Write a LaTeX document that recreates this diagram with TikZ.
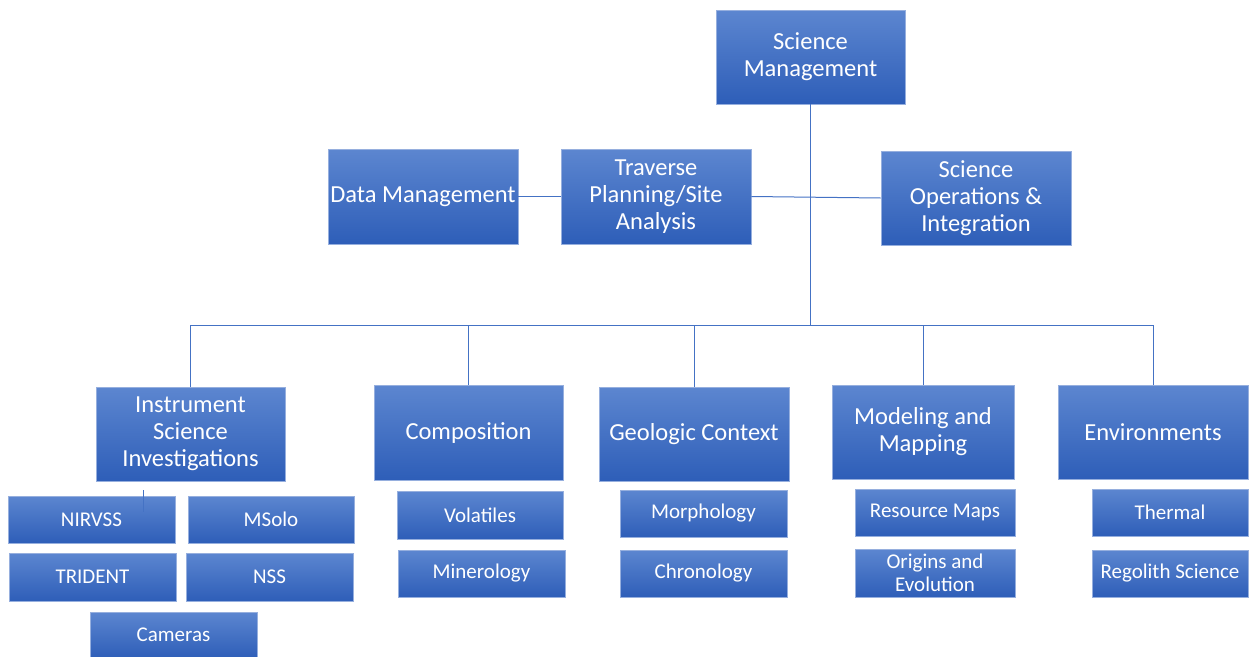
\documentclass[tikz,border=0pt]{standalone}
\usepackage{fontspec}
\setmainfont{Carlito}
\definecolor{boxtop}{RGB}{92,134,208}
\definecolor{boxbot}{RGB}{46,94,184}
\definecolor{boxedge}{RGB}{150,175,222}
\definecolor{linec}{RGB}{68,114,196}
\tikzset{
  orgbox/.style={rectangle, top color=boxtop, bottom color=boxbot, draw=boxedge, line width=0.6pt,
    text=white, align=center, inner sep=0pt},
  bigbox/.style={orgbox, font=\fontsize{24.5}{27}\selectfont},
  smallbox/.style={orgbox, font=\fontsize{21}{23}\selectfont},
  conn/.style={draw=linec, line width=1pt}
}
\begin{document}
\begin{tikzpicture}[x=1pt,y=-1pt]
\useasboundingbox (0,0) rectangle (1250,656);
% level 0/1
\node[bigbox, minimum width=189, minimum height=94] (sm) at (810.5,57) {Science\\Management};
\node[bigbox, minimum width=190, minimum height=95] (dm) at (423,196.5) {Data Management};
\node[bigbox, minimum width=190, minimum height=95] (tp) at (656,196.5) {Traverse\\Planning/Site\\Analysis};
\node[bigbox, minimum width=190, minimum height=94] (so) at (976,198) {Science\\Operations \&\\Integration};
% level 2
\node[bigbox, minimum width=189, minimum height=94] (isi) at (190.5,434) {Instrument\\Science\\Investigations};
\node[bigbox, minimum width=189, minimum height=95] (comp) at (468.5,432.5) {Composition};
\node[bigbox, minimum width=190, minimum height=94] (geo) at (694,434) {Geologic Context};
\node[bigbox, minimum width=182, minimum height=94] (mm) at (923,432) {Modeling and\\Mapping};
\node[bigbox, minimum width=190, minimum height=94] (env) at (1153,432) {Environments};
% level 3
\node[smallbox, minimum width=167, minimum height=47] (nirvss) at (91.5,519.5) {NIRVSS};
\node[smallbox, minimum width=166, minimum height=47] (msolo) at (271,519.5) {MSolo};
\node[smallbox, minimum width=167, minimum height=48] (trident) at (92.5,577) {TRIDENT};
\node[smallbox, minimum width=167, minimum height=48] (nss) at (269.5,577) {NSS};
\node[smallbox, minimum width=167, minimum height=46] (cam) at (173.5,635) {Cameras};
\node[smallbox, minimum width=166, minimum height=48] (vol) at (480,515) {Volatiles};
\node[smallbox, minimum width=167, minimum height=47] (min) at (481.5,573.5) {Minerology};
\node[smallbox, minimum width=167, minimum height=47] (morph) at (703.5,513.5) {Morphology};
\node[smallbox, minimum width=167, minimum height=47] (chron) at (703.5,573.5) {Chronology};
\node[smallbox, minimum width=160, minimum height=47] (rm) at (935,512.5) {Resource Maps};
\node[smallbox, minimum width=160, minimum height=48] (oe) at (935,573) {Origins and\\Evolution};
\node[smallbox, minimum width=156, minimum height=47] (th) at (1170,512.5) {Thermal};
\node[smallbox, minimum width=156, minimum height=47] (rs) at (1170,573.5) {Regolith Science};
% connectors
\coordinate (bus) at (810.5,325.5);
\coordinate (stubA) at (143,490);
\coordinate (stubB) at (143,512);
\draw[conn] (sm.south) -- (bus);
\draw[conn] (dm.east) -- (tp.west);
\draw[conn] (tp.east) -- (so.west);
\draw[conn] (bus) -| (isi.north);
\draw[conn] (bus) -| (comp.north);
\draw[conn] (bus) -| (geo.north);
\draw[conn] (bus) -| (mm.north);
\draw[conn] (bus) -| (env.north);
\draw[conn, line width=0.6pt] (stubA) -- (stubB);
\end{tikzpicture}
\end{document}
